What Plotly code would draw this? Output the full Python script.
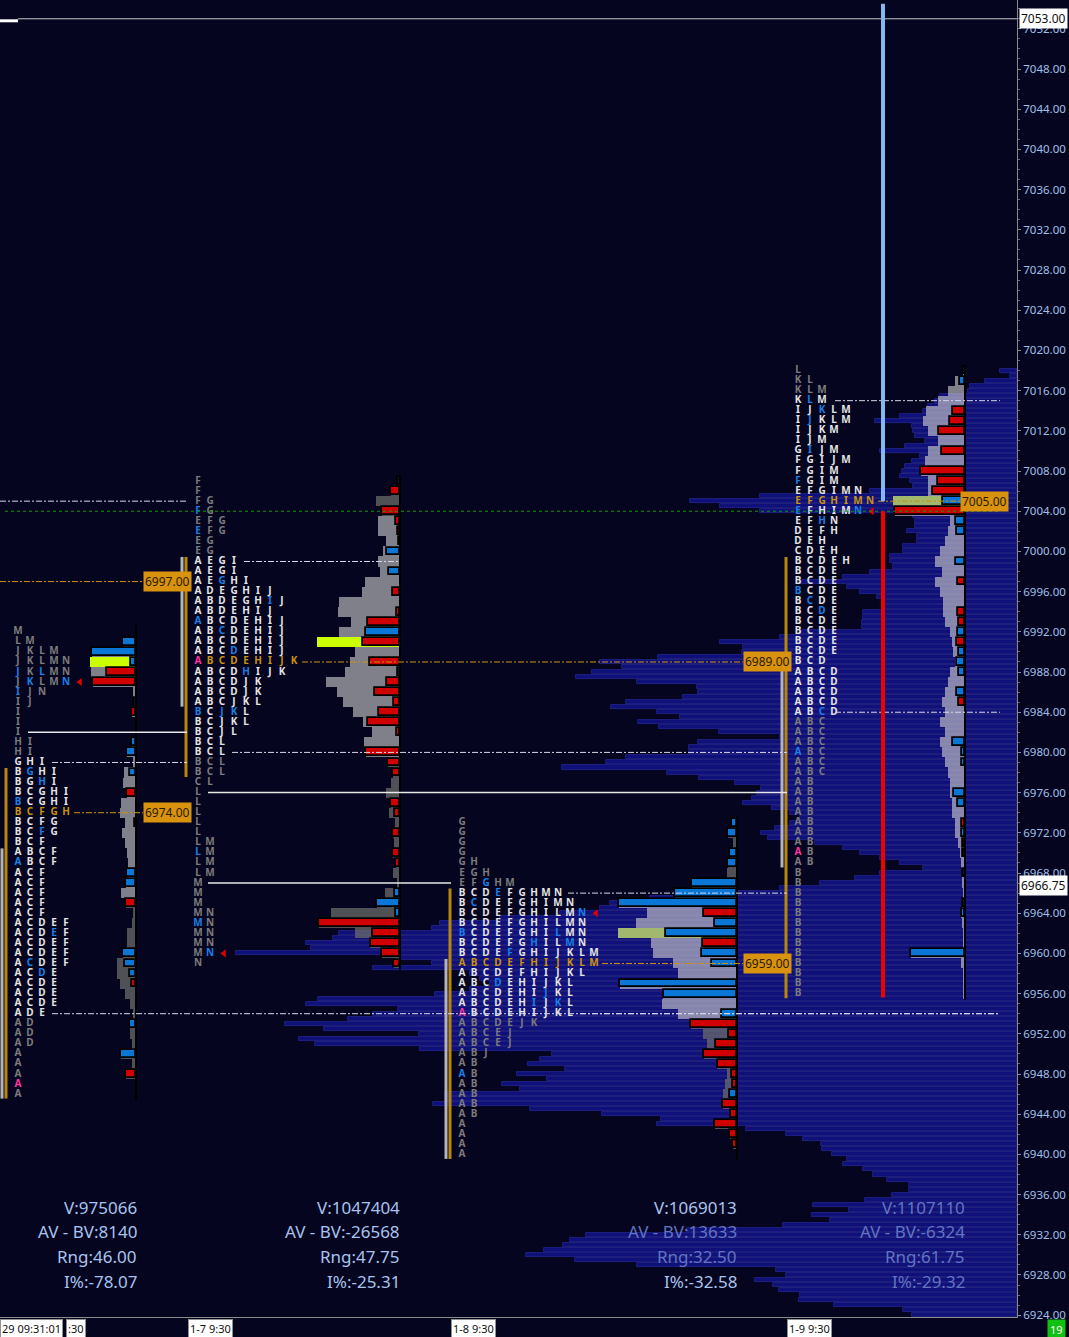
import plotly.graph_objects as go

# ======================= DATA =======================
price_ticks = list(range(6924, 7053, 4))
tick_labels = [f"{p:.2f}" for p in price_ticks]

# Composite volume profile, 0.5-pt rows from comp_top downward (bar lengths)
comp_top = 7018.0
comp_step = 0.5
comp_len = [
    17, 7, 32, 47, 49, 77, 82, 89, 94, 117, 142, 105, 104, 102, 92, 112, 137, 97, 105, 112,
    115, 117, 107, 104, 147, 257, 327, 297, 257, 104,
    102, 102, 110, 100, 100, 114, 114, 127, 127, 124, 147, 174, 217, 170, 157, 140, 135, 135, 154, 154,
    155, 155, 217, 237, 297, 274, 275, 359, 417, 395,
    425, 441, 380, 320, 319, 334, 391, 406, 360, 337, 379, 358, 298, 237, 319, 328, 328, 391, 411, 455,
    350, 318, 282, 256, 260, 265, 274, 245, 227, 217,
    227, 242, 256, 249, 202, 174, 157, 137, 117, 94, 137, 162, 197, 237, 317, 367, 407, 417, 457, 517,
    577, 585, 678, 684, 711, 706, 781, 617, 585, 644,
    547, 537, 527, 547, 582, 699, 711, 619, 644, 669, 732, 693, 598, 718, 702, 597, 465, 477, 489, 452,
    500, 470, 515, 497, 572, 572, 584, 487, 415, 356,
    360, 271, 231, 214, 196, 195, 185, 170, 174, 154, 144, 130, 108, 108, 125, 152, 204, 168, 205, 187,
    234, 330, 431, 447, 454, 473, 491, 442, 380, 241,
    231, 262, 244, 238, 217, 218, 183, 114, 105, 8,
]

# ---- Session 1 (12-29) : rows 6992 -> 6946
s1_top = 6992
s1_tpo = ["M", "L M", "J K L M", "J K L M N", "j K l M N", "J k L M n", "i J N", "I J", "I", "I", "I",
          "H I", "H I", "G H I", "B g H I", "B G h I", "B C G H I", "b C G H I", "B C F G H", "B C F G",
          "B C f G", "B C F", "A B C F", "a B C F", "A C F", "A C F", "A C F", "A C F", "A C F",
          "A C D E F", "A C D e F", "A C D E F", "A C D E F", "A c D E F", "A C d E", "A C D E",
          "A C D E", "A C D E", "A D E", "A D", "A D", "A D", "A", "A", "A", "+A", "A"]
s1_vol = [0, 13, 44, 46, 45, 43, 3, 2, 4, 0, 0, 4, 9, 3, 12, 13, 9, 15, 16, 11, 14, 11, 9, 8, 9, 10,
          15, 10, 3, 4, 9, 9, 13, 19, 19, 16, 11, 6, 3, 6, 6, 4, 15, 4, 10, 0, 0]
s1_delta = [0, 13, 44, 5, -29, -43, 0, 2, -4, 0, 0, 4, 9, 0, 6, 0, -9, 0, 0, 1, 0, 0, 0, 0, 9, 10,
            0, -10, 0, 0, 0, 0, 13, 11, 6, -4, 0, 0, 0, 6, 0, 0, 15, 0, -10, 0, 0]
s1_va = (6954, 6979)
s1_vol_va = (6966, 6990)
s1_poc = 6974
s1_close = 6987
s1_stats = ["V:975066", "AV - BV:8140", "Rng:46.00", "I%:-78.07"]

# ---- Session 2 (1-7) : rows 7007 -> 6959
s2_top = 7007
s2_tpo = ["F", "F", "F G", "f G", "E F G", "e F G", "E G", "E G", "A E G I", "A E G I", "A E g H I",
          "A D E G H I J", "A B D E G H i J", "A B D E H I J", "a B C D E H I J", "A B c D E H I J",
          "A B C D E H I J", "A B C d E H I J", "+A B C D E H I J K", "A B C D h I J K", "A B C D J K",
          "A B C D J K", "A B C J K L", "b C j k L", "B C J K L", "B C J L", "B C L", "B C L", "B C L",
          "B C L", "C L", "L", "L", "L", "L", "L", "L M", "l M", "L M", "L M", "M", "M", "M", "M N",
          "m N", "M N", "M N", "M n", "N"]
s2_vol = [2, 9, 24, 18, 22, 22, 14, 17, 22, 20, 35, 38, 61, 62, 49, 61, 83, 45, 50, 55, 74, 63, 57,
          47, 37, 28, 36, 34, 12, 7, 9, 14, 9, 11, 5, 7, 6, 7, 4, 7, 3, 15, 23, 69, 81, 45, 30, 18, 6]
s2_delta = [2, -9, 0, -18, -4, -2, -1, 13, 0, 11, 0, -7, 0, -3, -32, 34, -37, 0, -30, 2, -13, -25,
            -6, -21, -32, -3, 0, -34, -12, -7, 0, 0, -9, -5, 0, -7, 0, -7, -4, 0, 0, 5, 23, 4, -81,
            -27, -29, -18, -6]
s2_va = (6980, 6999)
s2_vol_va = (6980, 7003)
s2_poc = 6989
s2_close = 6960
s2_stats = ["V:1047404", "AV - BV:-26568", "Rng:47.75", "I%:-25.31"]

# ---- Session 3 (1-8) : rows 6973 -> 6940
s3_top = 6973
s3_tpo = ["G", "G", "G", "G", "G H", "E G H", "E F g H M", "B C D e F G H M N", "B c D E F G H I M N",
          "B C D E F G H I L M n", "B C D E F G H I L M N", "b C D E F G H I l M N",
          "B C D E F G h I L m N", "B C D E f G H I J K L M", "A B C D E F H I J K L M",
          "A B C D E F H I J K L", "A B C d E H I J K L", "A B C D E H I j K L", "A B C D E H i J k L",
          "+A B C D E H I J K L", "A B C D E J K", "A B C E J", "A B C E J", "A B J", "A B", "a B",
          "A B", "A B", "A B", "A B", "A", "A", "A", "A"]
s3_vol = [5, 9, 4, 7, 9, 10, 45, 62, 118, 90, 101, 119, 86, 84, 64, 59, 117, 74, 75, 59, 46, 34, 30,
          33, 20, 10, 12, 14, 14, 6, 22, 7, 4, 0]
s3_delta = [5, 9, 0, 7, 9, 0, 45, 62, 118, -33, 22, 71, -34, 35, 25, 0, 117, 73, 0, 15, -46, -8, -21,
            -33, -19, -5, -4, 7, -14, -6, -22, -7, -4, 0]
s3_va = (6954, 6966)
s3_vol_va = (6954, 6967)
s3_poc = 6959
s3_close = 6964
s3_stats = ["V:1069013", "AV - BV:13633", "Rng:32.50", "I%:-32.58"]

# ---- Session 4 (1-9) : rows 7018 -> 6956
s4_top = 7018
s4_tpo = ["L", "K L", "K L M", "K l M", "I J k L M", "I j K L M", "I J K M", "I J M", "G i J M",
          "F G I J M", "F G I M", "f G I M", "E F G I M N", "E F G H I M N", "e F H I M n", "E F h N",
          "D E F H", "D E H", "C D E H", "B C D E H", "B C D E", "B C D E", "b C D E", "B c D E",
          "B C d E", "B C D E", "B C D E", "B C D E", "B C D E", "B C D", "A B C D", "A B C D",
          "A B C D", "A B C D", "A B c D", "A B C", "A B C", "A B C", "a B C", "A B C", "A B C",
          "A B", "A B", "A B", "A B", "A B", "A B", "A B", "+A B", "A B", "B", "B", "B", "B", "B",
          "B", "B", "B", "B", "B", "B", "B", "B"]
s4_vol = [2, 10, 17, 27, 39, 42, 37, 27, 37, 40, 44, 37, 37, 72, 70, 15, 17, 20, 25, 30, 23, 30, 25,
          22, 22, 20, 15, 13, 12, 10, 15, 17, 20, 23, 20, 25, 20, 25, 23, 20, 17, 15, 15, 13, 13, 10,
          10, 7, 5, 4, 3, 3, 2, 3, 4, 3, 2, 2, 54, 4, 2, 2, 2]
s4_delta = [2, 5, 0, 0, -12, -15, -26, 0, -23, 0, -44, -27, -32, 22, -70, 9, 8, 0, 0, 9, 0, -7, 0, 0,
            -7, -6, 7, -8, 6, 8, 6, 0, 8, -6, 0, 0, 0, 12, 3, 3, 0, 0, 11, 7, 0, -3, 3, -2, -2, 0, 2,
            0, 0, 2, 3, 0, 0, 0, 54, 0, 0, 0, 0]
s4_va = (6984, 7015)
s4_vol_va = (6956, 7018)
s4_poc = 7005
s4_close = 7004
s4_stats = ["V:1107110", "AV - BV:-6324", "Rng:61.75", "I%:-29.32"]

time_labels = ["29 09:31:01", ":30", "1-7 9:30", "1-8 9:30", "1-9 9:30"]
prev_poc = 6997.0
prev_vah = 7005.0
last_price = 7004.0
high_mark = 7053.0
mark_price = 6966.75
ext_up = (7005.0, 7054.5)
ext_down = (7004.0, 6955.6)
bar_counter = "19"

# ======================= STYLE / LAYOUT =======================
W, H = 1069, 1337
X_RIGHT = 1017
Y_MIN, Y_MAX = 6923.82, 7054.87
BG = "#050520"
COMP_FILL = "#10107a"
COMP_EDGE = "#26268e"
WHITE_L = "#e4e4e4"
GREY_L = "#7c7c7c"
BLUE_L = "#1a80e6"
PINK_L = "#ff33a0"
ORANGE_L = "#cc920f"
RED = "#d00000"
BLUE = "#0a76d6"
GOLD = "#b8860b"
LABEL_BG = "#d8920e"
STAT_C = "#a8c4ee"
STAT_DIM = "#6274c2"
FONT = "Noto Sans"

sessions = [
    dict(top=s1_top, tpo=s1_tpo, vol=s1_vol, delta=s1_delta, va=s1_va, vva=s1_vol_va, poc=s1_poc,
         close=s1_close, stats=s1_stats),
    dict(top=s2_top, tpo=s2_tpo, vol=s2_vol, delta=s2_delta, va=s2_va, vva=s2_vol_va, poc=s2_poc,
         close=s2_close, stats=s2_stats),
    dict(top=s3_top, tpo=s3_tpo, vol=s3_vol, delta=s3_delta, va=s3_va, vva=s3_vol_va, poc=s3_poc,
         close=s3_close, stats=s3_stats),
    dict(top=s4_top, tpo=s4_tpo, vol=s4_vol, delta=s4_delta, va=s4_va, vva=s4_vol_va, poc=s4_poc,
         close=s4_close, stats=s4_stats),
]
sess_style = [
    dict(x0=18, anchor=136, poc_lbl_x=143, lime="#ccff00", dim=[0, 0, 0, 0], stat_x=139),
    dict(x0=198, anchor=400, poc_lbl_x=743, lime="#ccff00", dim=[0, 0, 0, 0], stat_x=402),
    dict(x0=462, anchor=737, poc_lbl_x=743, lime="#a2b86c", dim=[0, 1, 1, 0], stat_x=739),
    dict(x0=798, anchor=965, poc_lbl_x=960, lime="#a2b86c", dim=[1, 1, 1, 1], stat_x=967),
]
COL = 12
stats_y = [6934.75, 6932.3, 6929.85, 6927.4]
time_label_x = [0, 66, 188, 451, 787]

va_lines = [(prev_vah, 0, 187), (6979, 52, 187), (6954, 52, 1000), (6999, 244, 400),
            (6980, 232, 787), (6966, 568, 787), (6954, 580, 1000), (7015, 835, 1000),
            (6984, 835, 1000)]
solid_lines = [(6982, 28, 187), (6976, 208, 787), (6967, 208, 451)]

fig = go.Figure()
shapes = []
annotations = []

# ---- composite profile
comp_prices = [comp_top - i * comp_step for i in range(len(comp_len))]
fig.add_trace(go.Bar(
    orientation="h", y=comp_prices, x=comp_len, base=[X_RIGHT - v for v in comp_len],
    width=0.4, marker=dict(color=COMP_FILL, line=dict(color=COMP_EDGE, width=0.8)),
    hoverinfo="skip", showlegend=False))

lx, ly, lt, lc = [], [], [], []
cx, cy = [], []


def parse(tok):
    if tok.startswith("+"):
        return tok[1:], PINK_L
    if tok.islower():
        return tok.upper(), BLUE_L
    return tok, None


for s, st in zip(sessions, sess_style):
    n = len(s["tpo"])
    prices = [s["top"] - i for i in range(n)]
    anchor = st["anchor"]
    vol = s["vol"][:n]
    vpoc_i = max(range(len(vol)), key=lambda i: vol[i])

    groups = {"light": ([], []), "dark": ([], []), "lime": ([], [])}
    for i, (p, v) in enumerate(zip(prices, vol)):
        if v <= 0:
            continue
        if i == vpoc_i:
            key = "lime"
        elif s["vva"][0] <= p <= s["vva"][1]:
            key = "light"
        else:
            key = "dark"
        groups[key][0].append(p)
        groups[key][1].append(v)
    gcol = {"light": "rgba(205,205,205,0.62)", "dark": "rgba(105,105,105,0.75)", "lime": st["lime"]}
    for key in ("dark", "light", "lime"):
        ys, vs = groups[key]
        if ys:
            fig.add_trace(go.Bar(orientation="h", y=ys, x=vs, base=[anchor - v for v in vs], width=1.0,
                                 marker=dict(color=gcol[key], line=dict(width=0)),
                                 hoverinfo="skip", showlegend=False))
    for sign, colr in ((1, BLUE), (-1, RED)):
        ys = [p for p, d in zip(prices, s["delta"]) if d * sign > 0]
        vs = [abs(d) for d in s["delta"] if d * sign > 0]
        fig.add_trace(go.Bar(orientation="h", y=ys, x=vs, base=[anchor - v for v in vs], width=0.78,
                             marker=dict(color=colr, line=dict(color="#000000", width=1.8)),
                             hoverinfo="skip", showlegend=False))
    shapes.append(dict(type="line", xref="x", yref="y", x0=anchor, x1=anchor,
                       y0=min(prices) - 0.6, y1=max(prices) + 0.6,
                       line=dict(color="#000000", width=2)))

    a_rows, ab_rows = [], []
    for p, row in zip(prices, s["tpo"]):
        toks = row.split()
        letters = [parse(t)[0] for t in toks]
        if "A" in letters:
            a_rows.append(p)
        if "A" in letters or "B" in letters:
            ab_rows.append(p)
        for j, t in enumerate(toks):
            ch, c = parse(t)
            if c is None:
                if p == s["poc"]:
                    c = ORANGE_L
                elif s["va"][0] <= p <= s["va"][1]:
                    c = WHITE_L
                else:
                    c = GREY_L
            lx.append(st["x0"] + j * COL)
            ly.append(p)
            lt.append(ch)
            lc.append(c)
        if p == s["close"]:
            cx.append(st["x0"] + (len(toks) - 1) * COL + 14)
            cy.append(p)
        if p == s["poc"]:
            xs = st["x0"] + (len(toks) - 1) * COL + 8
            shapes.append(dict(type="line", xref="x", yref="y", x0=xs, x1=st["poc_lbl_x"], y0=p, y1=p,
                               line=dict(color=ORANGE_L, width=1, dash="6px,2px,2px,2px")))
            annotations.append(dict(x=st["poc_lbl_x"], y=p, xref="x", yref="y", xanchor="left",
                                    yanchor="middle", text=f"{p:.2f}", showarrow=False,
                                    bgcolor=LABEL_BG, borderpad=1,
                                    font=dict(family=FONT, size=12, color="#2a1a00")))
    shapes.append(dict(type="line", xref="x", yref="y", x0=st["x0"] - 16, x1=st["x0"] - 16,
                       y0=min(a_rows) - 0.45, y1=max(a_rows) + 0.45,
                       line=dict(color="#b4b4b4", width=3)))
    shapes.append(dict(type="line", xref="x", yref="y", x0=st["x0"] - 12, x1=st["x0"] - 12,
                       y0=min(ab_rows) - 0.45, y1=max(ab_rows) + 0.45,
                       line=dict(color=GOLD, width=3)))
    for k, (txt, yy) in enumerate(zip(s["stats"], stats_y)):
        annotations.append(dict(x=st["stat_x"], y=yy, xref="x", yref="y", xanchor="right",
                                yanchor="middle", text=txt, showarrow=False,
                                font=dict(family=FONT, size=17,
                                          color=STAT_DIM if st["dim"][k] else STAT_C)))

fig.add_trace(go.Scatter(x=lx, y=ly, text=lt, mode="text", textposition="middle center",
                         textfont=dict(family=FONT, size=10, color=lc, weight="bold"),
                         hoverinfo="skip", showlegend=False, cliponaxis=False))
fig.add_trace(go.Scatter(x=cx, y=cy, mode="markers",
                         marker=dict(symbol="triangle-left", size=7, color="#e00000"),
                         hoverinfo="skip", showlegend=False))

shapes.append(dict(type="line", xref="x", yref="y", x0=0, x1=143, y0=prev_poc, y1=prev_poc,
                   line=dict(color=ORANGE_L, width=1, dash="6px,2px,2px,2px")))
annotations.append(dict(x=143, y=prev_poc, xref="x", yref="y", xanchor="left", yanchor="middle",
                        text=f"{prev_poc:.2f}", showarrow=False, bgcolor=LABEL_BG, borderpad=1,
                        font=dict(family=FONT, size=12, color="#2a1a00")))

for p, a, b in va_lines:
    shapes.append(dict(type="line", xref="x", yref="y", x0=a, x1=b, y0=p, y1=p,
                       line=dict(color="#d8d8e8", width=1, dash="6px,2px,2px,2px")))
for p, a, b in solid_lines:
    shapes.append(dict(type="line", xref="x", yref="y", x0=a, x1=b, y0=p, y1=p,
                       line=dict(color="#e8e8e8", width=1.5)))

shapes.append(dict(type="line", xref="x", yref="y", x0=5, x1=1000, y0=last_price, y1=last_price,
                   line=dict(color="#0c9a0c", width=1, dash="dot")))
shapes.append(dict(type="line", xref="x", yref="y", x0=18, x1=X_RIGHT, y0=high_mark, y1=high_mark,
                   line=dict(color="#c8c8c8", width=1)))
shapes.append(dict(type="line", xref="x", yref="y", x0=0, x1=18, y0=high_mark - 0.2,
                   y1=high_mark - 0.2, line=dict(color="#ffffff", width=3)))
shapes.append(dict(type="line", xref="x", yref="y", x0=883, x1=883, y0=ext_up[0], y1=ext_up[1],
                   line=dict(color="#86b8f0", width=4)))
shapes.append(dict(type="line", xref="x", yref="y", x0=883, x1=883, y0=ext_down[0], y1=ext_down[1],
                   line=dict(color="#f00000", width=4)))

# price markers on the axis (paper-x so they are drawn outside the plot area)
for p in (high_mark, mark_price):
    annotations.append(dict(x=(X_RIGHT + 2) / X_RIGHT, y=p, xref="paper", yref="y", xanchor="left",
                            yanchor="middle", text=f"{p:.2f}", showarrow=False, bgcolor="#ffffff",
                            borderpad=1, font=dict(family=FONT, size=12, color="#101010")))
for t, x in zip(time_labels, time_label_x):
    annotations.append(dict(x=x / X_RIGHT, y=0, xref="paper", yref="paper", xanchor="left",
                            yanchor="top", yshift=-2, text=t, showarrow=False, bgcolor="#ffffff",
                            bordercolor="#909090", borderwidth=1, borderpad=1,
                            font=dict(family=FONT, size=11, color="#101010")))
annotations.append(dict(x=1047 / X_RIGHT, y=0, xref="paper", yref="paper", xanchor="left",
                        yanchor="top", yshift=-2, text=bar_counter, showarrow=False,
                        bgcolor="#12c012", borderpad=2, font=dict(family=FONT, size=11, color="#ffffff")))

fig.update_layout(
    width=W, height=H, margin=dict(l=0, r=W - X_RIGHT, t=0, b=20, pad=0, autoexpand=False),
    paper_bgcolor=BG, plot_bgcolor=BG, barmode="overlay", bargap=0, showlegend=False,
    hovermode=False, shapes=shapes, annotations=annotations,
    xaxis=dict(range=[0, X_RIGHT], showgrid=False, zeroline=False, showticklabels=False,
               showline=True, linecolor="#8a8a8a", ticks="", fixedrange=True),
    yaxis=dict(range=[Y_MIN, Y_MAX], side="right", showgrid=False, zeroline=False,
               tickmode="array", tickvals=price_ticks, ticktext=tick_labels,
               ticks="outside", ticklen=3, tickcolor="#8a8a8a",
               tickfont=dict(family=FONT, size=11.5, color="#a0c0e6"),
               showline=True, linecolor="#8a8a8a", fixedrange=True,
               minor=dict(tickmode="linear", tick0=6924, dtick=1, ticks="outside", ticklen=2,
                          tickcolor="#6a6a6a")),
)

fig.write_html("out.html", config={"displayModeBar": False},
               post_script="document.body.style.margin='0';document.body.style.padding='0';"
                           "document.body.style.background='" + BG + "';")
